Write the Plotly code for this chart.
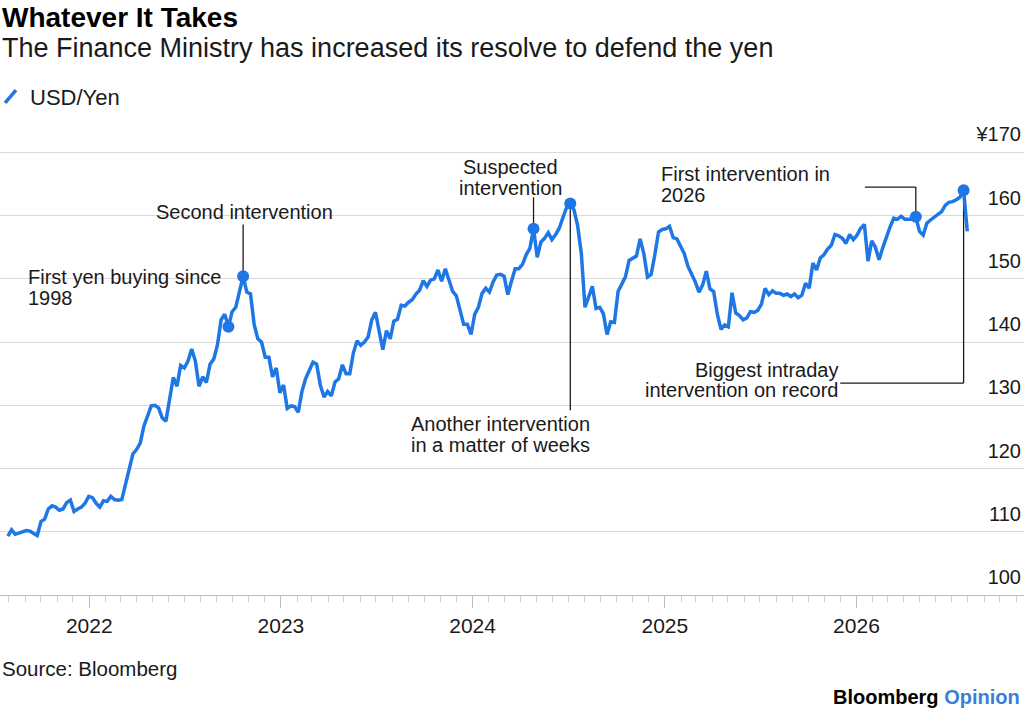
import plotly.graph_objects as go
import pandas as pd

# weekly USD/JPY closes, first week ends Fri 30 Jul 2021
week_start = "2021-07-30"
usd_jpy = [
    109.3, 110.3, 109.6, 109.8, 110.0, 110.2, 110.1, 109.7, 109.4, 111.6,
    112.0, 113.6, 114.1, 113.9, 113.4, 113.6, 114.6, 115.0, 113.2, 113.6,
    113.9, 114.5, 115.6, 115.4, 114.5, 113.9, 114.9, 114.8, 115.6, 115.1,
    115.0, 115.1, 117.5, 119.5, 122.3, 123.0, 124.0, 126.7, 128.5, 129.9,
    130.0, 129.6, 128.0, 127.5, 131.0, 134.4, 133.0, 136.3, 135.9, 137.0,
    138.9, 137.0, 133.0, 134.5, 133.6, 136.5, 137.3, 139.5, 143.5, 144.4,
    142.4, 144.8, 145.5, 148.0, 150.4, 147.9, 147.6, 142.8, 140.5, 140.0,
    137.6, 137.6, 134.5, 135.9, 132.0, 133.2, 129.5, 129.9, 129.8, 128.9,
    132.2, 134.2, 135.5, 136.8, 136.5, 133.2, 131.3, 132.2, 131.5, 133.7,
    134.2, 136.4, 135.0, 135.0, 138.3, 140.2, 139.5, 140.0, 140.8, 143.5,
    144.7, 141.5, 138.8, 141.8, 140.5, 143.3, 143.6, 145.8, 145.7, 146.3,
    146.7, 147.6, 148.2, 149.7, 148.8, 149.8, 150.0, 151.4, 149.6, 151.6,
    149.9, 148.0, 147.3, 145.0, 142.8, 142.8, 141.2, 144.4, 145.5, 147.7,
    148.5, 147.9, 149.5, 150.6, 150.7, 150.4, 147.5, 149.6, 151.6, 151.6,
    152.3, 153.8, 154.8, 157.9, 153.4, 155.8, 156.4, 157.3, 156.2, 157.0,
    158.0, 159.7, 161.3, 161.9, 160.9, 158.4, 154.0, 145.5, 147.3, 148.8,
    145.3, 145.5, 144.5, 141.2, 143.2, 143.1, 148.0, 149.3, 150.3, 152.9,
    153.3, 153.6, 156.3, 154.0, 150.3, 150.7, 153.8, 157.4, 157.8, 157.9,
    158.3, 156.5, 156.3, 155.0, 154.0, 152.0, 150.8, 149.5, 147.9, 149.0,
    151.2, 148.4, 148.0, 144.4, 142.0, 142.7, 142.4, 147.8, 144.6, 144.2,
    143.5, 143.8, 144.8, 144.7, 145.0, 146.0, 148.5, 147.5, 148.1, 147.7,
    147.7, 147.4, 147.6, 147.2, 147.6, 147.0, 147.4, 149.3, 148.5, 152.5,
    151.4, 153.3, 153.8, 154.7, 155.3, 157.0, 156.8, 156.4, 155.6, 157.0,
    156.2, 156.9, 158.0, 158.6, 152.8, 156.0, 155.0, 153.0, 154.9, 156.7,
    158.2, 159.6, 159.4, 159.9, 159.4, 159.4, 159.4, 159.8, 157.5, 156.9,
    158.8, 159.3, 159.8, 160.2, 160.6, 161.6, 162.1, 162.2, 162.5, 162.9,
    164.0, 157.5,
]
weeks = pd.date_range(week_start, periods=len(usd_jpy), freq="7D")

# positions (week index) of the intervention dots
marked = [60, 64, 143, 153, 247, 260]

y_ticks = [100, 110, 120, 130, 140, 150, 160, 170]
y_tick_text = ["100", "110", "120", "130", "140", "150", "160", "¥170"]

BLUE = "#1f77e6"
INK = "#1a1a1a"
FONT = "Liberation Sans, Arial, sans-serif"

fig = go.Figure()
fig.add_trace(go.Scatter(x=weeks, y=usd_jpy, mode="lines",
                         line=dict(color=BLUE, width=3.5), name="USD/Yen"))
fig.add_trace(go.Scatter(x=[weeks[i] for i in marked], y=[usd_jpy[i] for i in marked],
                         mode="markers", marker=dict(color=BLUE, size=12), name="Intervention"))


def leader(x0, y0, x1, y1):
    fig.add_shape(type="line", xref="x", yref="y", x0=x0, y0=y0, x1=x1, y1=y1,
                  line=dict(color=INK, width=1.3), layer="between")


# leader lines from labels to the dots
leader(weeks[64], 158.6, weeks[64], usd_jpy[64])
leader(weeks[143], 162.9, weeks[143], usd_jpy[143])
leader(weeks[153], usd_jpy[153], weeks[153], 129.2)
leader("2026-01-17", 164.5, weeks[247], 164.5)
leader(weeks[247], 164.5, weeks[247], usd_jpy[247])
leader("2025-12-01", 133.5, weeks[260], 133.5)
leader(weeks[260], 133.5, weeks[260], usd_jpy[260])

# one entry per text line, so the line spacing can be kept tight
notes = [
    ("First yen buying since", "2021-09-03", 150.3, "left"),
    ("1998", "2021-09-03", 146.9, "left"),
    ("Second intervention", "2022-05-05", 160.5, "left"),
    ("Suspected", "2024-03-14", 167.7, "center"),
    ("intervention", "2024-03-14", 164.4, "center"),
    ("Another intervention", "2023-09-01", 127.0, "left"),
    ("in a matter of weeks", "2023-09-01", 123.7, "left"),
    ("First intervention in", "2024-12-21", 166.6, "left"),
    ("2026", "2024-12-21", 163.2, "left"),
    ("Biggest intraday", "2025-12-01", 135.6, "right"),
    ("intervention on record", "2025-12-01", 132.4, "right"),
]
for text, x, y, anchor in notes:
    fig.add_annotation(x=x, y=y, xref="x", yref="y", text=text, showarrow=False,
                       xanchor=anchor, yanchor="middle", align=anchor,
                       font=dict(size=20, color=INK, family=FONT))

# header, legend and footer (paper units: plot area is 449 px tall, bottom at y=595)
fig.add_annotation(x=0, y=1.2873, xref="paper", yref="paper", text="<b>Whatever It Takes</b>",
                   showarrow=False, xanchor="left", yanchor="middle",
                   font=dict(size=28, color="#000", family=FONT))
fig.add_annotation(x=0, y=1.2183, xref="paper", yref="paper",
                   text="The Finance Ministry has increased its resolve to defend the yen",
                   showarrow=False, xanchor="left", yanchor="middle",
                   font=dict(size=27, color=INK, family=FONT))
fig.add_shape(type="line", xref="paper", yref="paper", x0=0.005, y0=1.0958, x1=0.0156, y1=1.1247,
              line=dict(color=BLUE, width=3.5))
fig.add_annotation(x=0.0273, y=1.1091, xref="paper", yref="paper", text="USD/Yen",
                   showarrow=False, xanchor="left", yanchor="middle",
                   font=dict(size=22, color=INK, family=FONT))
fig.add_annotation(x=0, y=-0.1626, xref="paper", yref="paper", text="Source: Bloomberg",
                   showarrow=False, xanchor="left", yanchor="middle",
                   font=dict(size=20.5, color=INK, family=FONT))
fig.add_annotation(x=0.998, y=-0.2272, xref="paper", yref="paper",
                   text="<b>Bloomberg</b> <b><span style='color:#3a7fd5'>Opinion</span></b>",
                   showarrow=False, xanchor="right", yanchor="middle",
                   font=dict(size=20, color="#000", family=FONT))

fig.update_xaxes(range=["2021-07-15", "2026-11-16"], showgrid=False, zeroline=False,
                 showline=True, linecolor="#bdbdbd", linewidth=1,
                 ticks="outside", ticklen=12, tickcolor="#bdbdbd",
                 tick0="2022-01-01", dtick="M12", tickformat="%Y",
                 minor=dict(ticks="outside", ticklen=6, tickcolor="#cfcfcf", dtick="M1",
                            tick0="2022-01-01", showgrid=False),
                 tickfont=dict(size=21, color=INK, family=FONT))
fig.update_yaxes(range=[100, 171], side="right", tickvals=y_ticks, ticktext=y_tick_text,
                 ticklabelposition="inside", ticklabelshift=-18, ticklabeloverflow="allow",
                 ticks="", showgrid=True, gridcolor="#d9d9d9", gridwidth=1, zeroline=False,
                 tickfont=dict(size=20, color=INK, family=FONT))

fig.update_layout(width=1024, height=711, margin=dict(l=0, r=0, t=146, b=116),
                  plot_bgcolor="white", paper_bgcolor="white", showlegend=False,
                  font=dict(family=FONT))

# the page's default body margin would push the 1024x711 figure off the window
fig.write_html("out.html", config={"displayModeBar": False},
               post_script="document.body.style.margin = '0';")
